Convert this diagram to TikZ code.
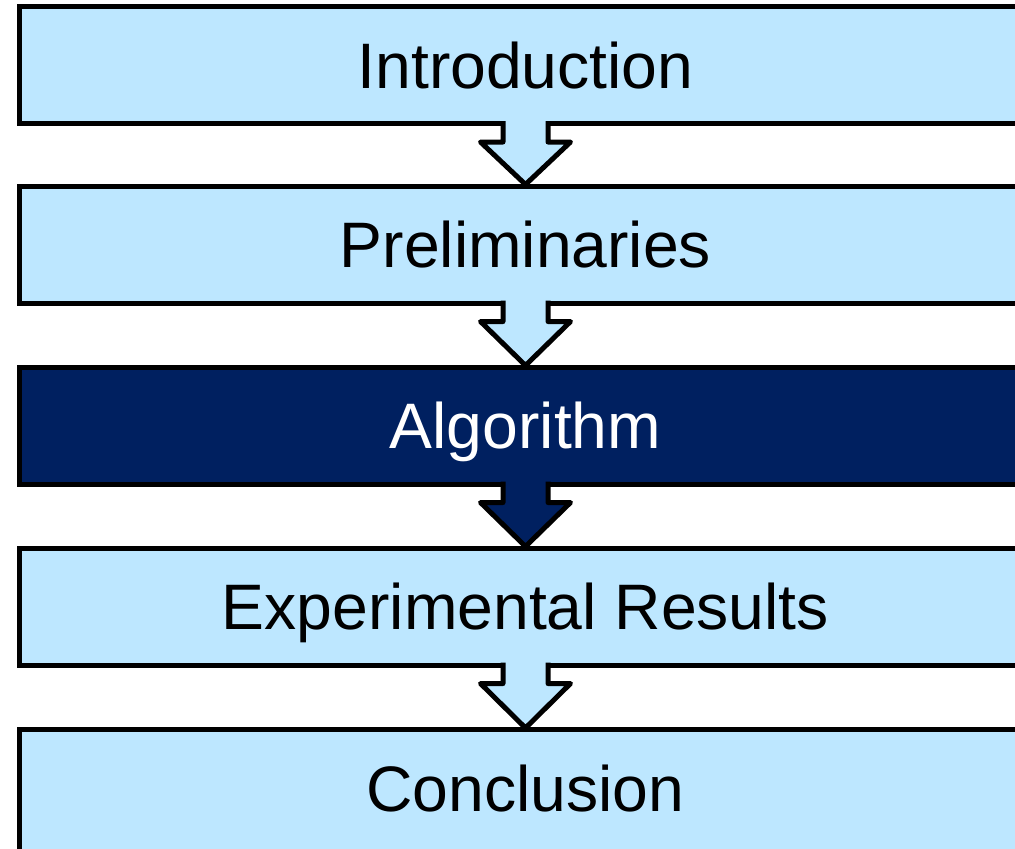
\documentclass[tikz,border=0pt]{standalone}
\usepackage{fontspec}
\setmainfont{Liberation Sans}
\usetikzlibrary{calc}
\definecolor{lightbox}{RGB}{189,231,255}
\definecolor{darkbox}{RGB}{0,32,96}
\begin{document}
\begin{tikzpicture}[x=0.75pt,y=-0.75pt,
  secbox/.style={draw=black,line width=3.75pt,fill=lightbox,rectangle,
    minimum width=759.75pt,inner sep=0pt,outer sep=0pt,anchor=base,
    text height=60.8pt,text depth=26.6pt,font=\fontsize{48.2pt}{57pt}\selectfont},
  darksec/.style={secbox,fill=darkbox,text=white},
  arrowline/.style={draw=black,line width=3.75pt,line join=round}]
\useasboundingbox (0,0) rectangle (1015,849);
\clip (0,0) rectangle (1015,849);
\node[secbox] (b1) at (525.5,88.05) {Introduction};
\node[secbox] (b2) at (525.5,267.55) {Preliminaries};
\node[darksec] (b3) at (525.5,448.55) {Algorithm};
\node[secbox] (b4) at (525.5,629.55) {Experimental Results};
\node[secbox,text depth=50pt] (b5) at (525.5,811.05) {Conclusion};
\foreach \a/\b/\c in {b1/b2/lightbox,b2/b3/lightbox,b3/b4/darkbox,b4/b5/lightbox}{
  \fill[\c] ([shift={(-22.5,-8)}]\a.south) -- ([shift={(-22.5,18.5)}]\a.south)
    -- ([shift={(-45,18.5)}]\a.south) -- ([shift={(0,-2)}]\b.north)
    -- ([shift={(45,18.5)}]\a.south) -- ([shift={(22.5,18.5)}]\a.south)
    -- ([shift={(22.5,-8)}]\a.south) -- cycle;
  \draw[arrowline] ([shift={(-22.5,-2.5)}]\a.south) -- ([shift={(-22.5,18.5)}]\a.south)
    -- ([shift={(-45,18.5)}]\a.south) -- ([shift={(0,-2)}]\b.north)
    -- ([shift={(45,18.5)}]\a.south) -- ([shift={(22.5,18.5)}]\a.south)
    -- ([shift={(22.5,-2.5)}]\a.south);
}
\end{tikzpicture}
\end{document}
